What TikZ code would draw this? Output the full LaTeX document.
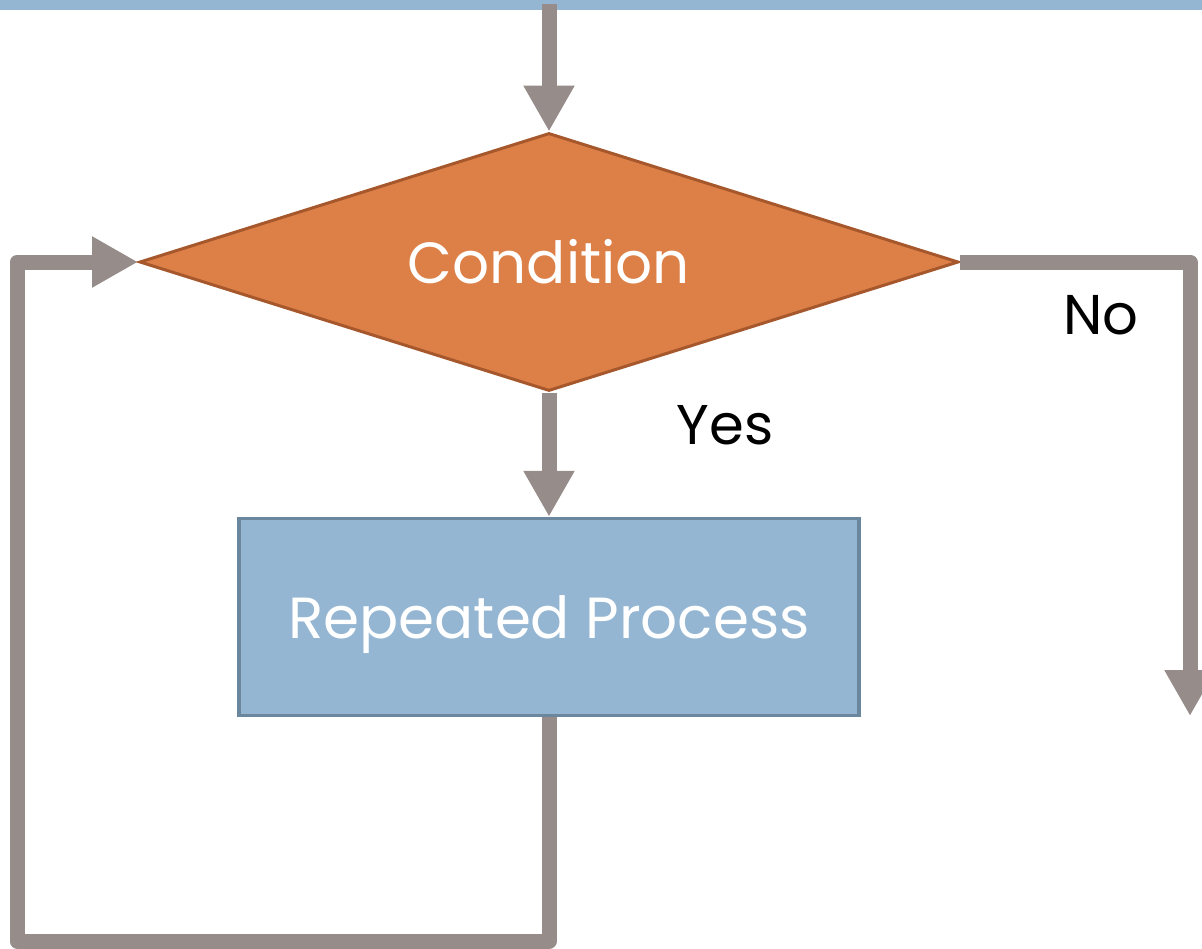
\documentclass[tikz,border=0pt]{standalone}
\usepackage{fontspec}
\setmainfont{Poppins}
\usetikzlibrary{shapes.geometric,arrows.meta}
\definecolor{flowgrey}{RGB}{150,140,138}
\definecolor{condfill}{RGB}{221,128,71}
\definecolor{condedge}{RGB}{166,88,44}
\definecolor{procfill}{RGB}{148,182,210}
\definecolor{procedge}{RGB}{106,135,158}
\begin{document}
\begin{tikzpicture}[x=1pt,y=-1pt]
        \tikzstyle{flow}=[draw=flowgrey, line width=15pt, line join=round, -{Triangle[length=46pt,width=48pt]}];
        \tikzstyle{label}=[text=black, font=\fontsize{56}{64}\selectfont];
        \useasboundingbox (0,0) rectangle (1202,948);
        \fill[procfill] (0,0) rectangle (1202,10);
        % shapes
        \node (cond) [diamond, aspect=3.17, fill=condfill, draw=condedge, line width=3pt, inner sep=0pt, minimum width=819pt, minimum height=258pt, text=white, font=\fontsize{58}{70}\selectfont] at (549,262) {Condition};
        \node (proc) [rectangle, fill=procfill, draw=procedge, line width=3.5pt, minimum width=620pt, minimum height=197pt, text depth=0pt, text=white, font=\fontsize{58}{70}\selectfont] at (549,617) {Repeated Process};
        \node (yes) [label] at (725,425) {Yes};
        \node (no) [label] at (1101,315) {No};
        \coordinate (entry) at (549,4);
        \coordinate (loopback) at (17,941);
        \coordinate (exit) at (1190,716);
        % connectors
        \draw[flow] (entry) -- (cond.north);
        \draw[flow] (cond.south) -- (proc.north);
        \draw[flow] (proc.south) |- (loopback) |- (cond.west);
        \draw[flow] (cond.east) -| (exit);
    \end{tikzpicture}
\end{document}
